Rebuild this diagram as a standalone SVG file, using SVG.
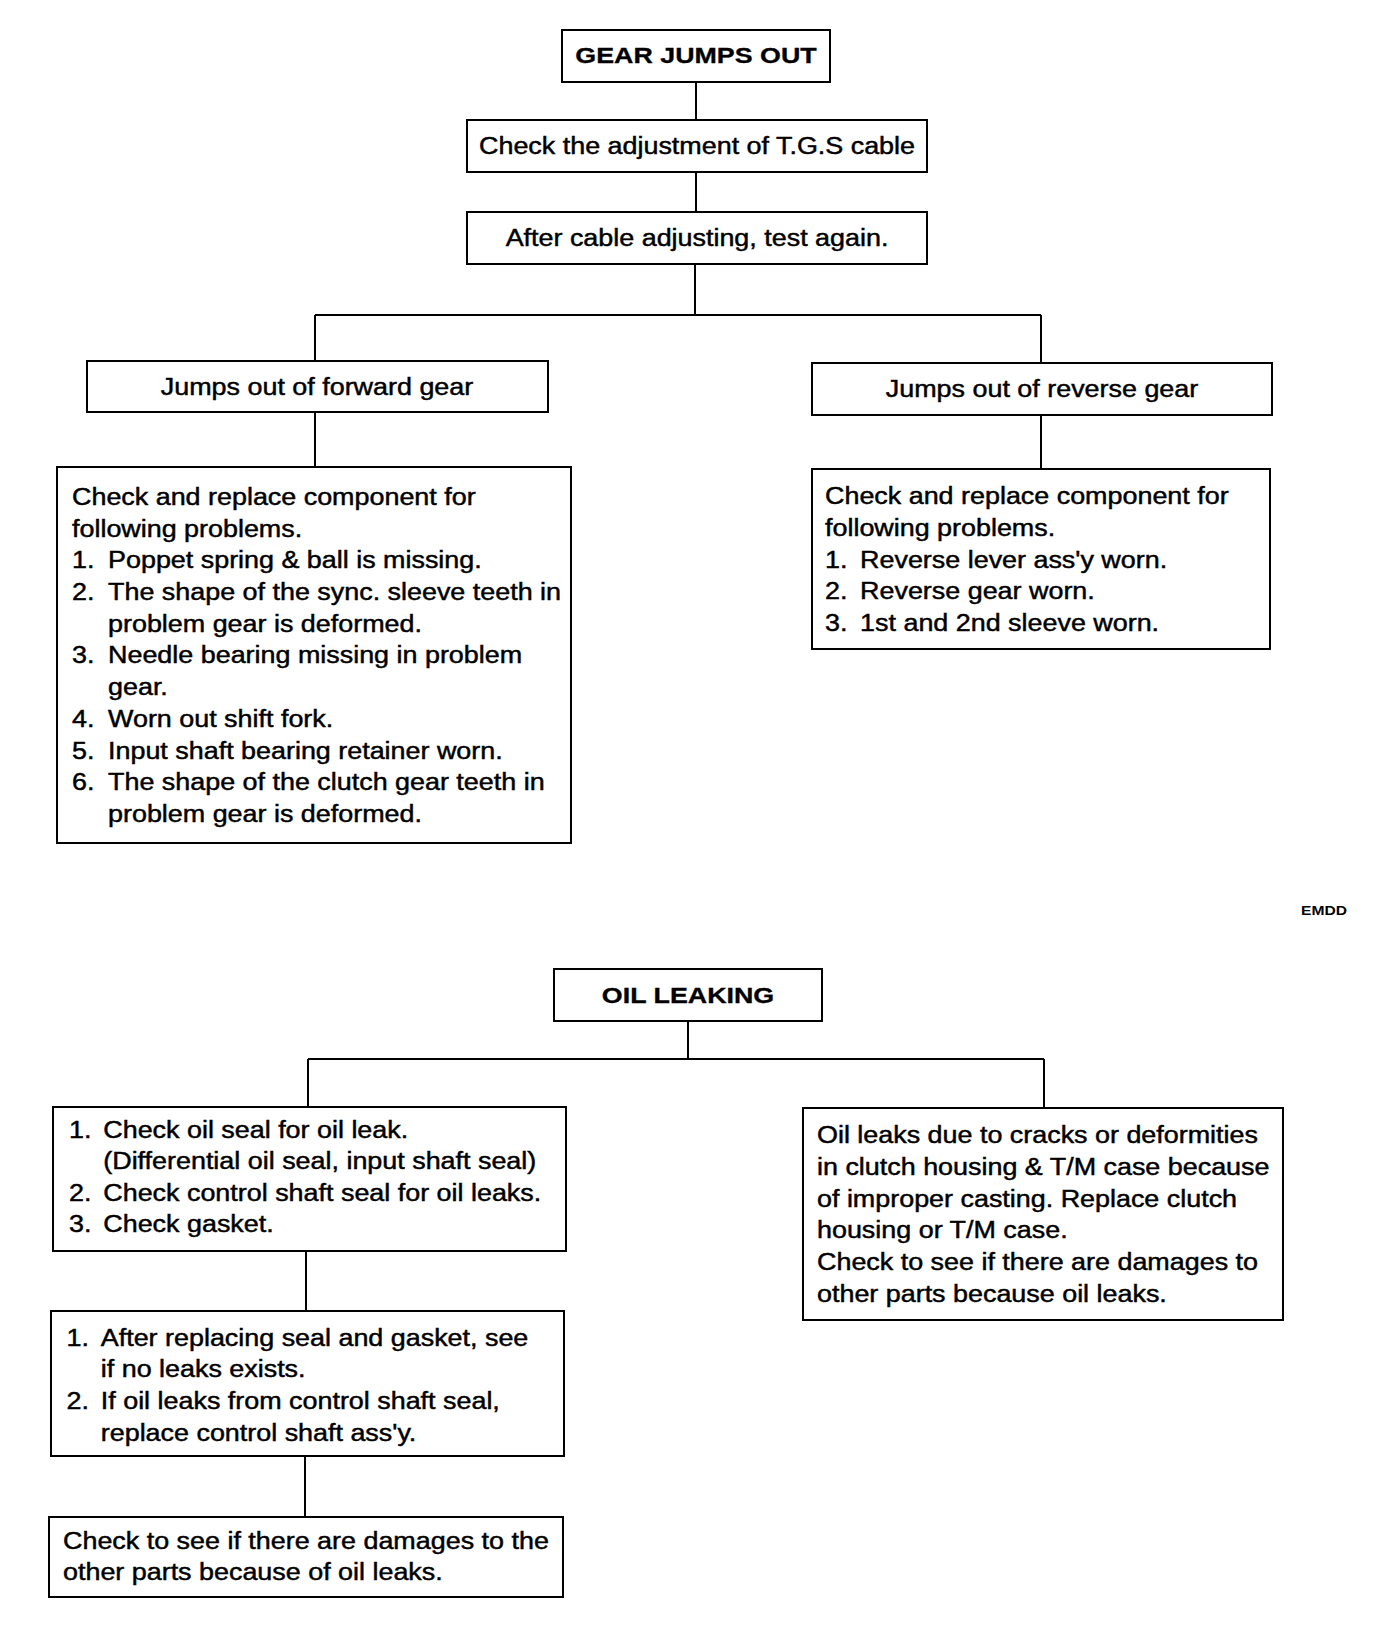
<svg xmlns="http://www.w3.org/2000/svg" width="1376" height="1630" viewBox="0 0 1376 1630">
<style>
.box{fill:#fff;stroke:#000;stroke-width:2}
.t{font-family:"Liberation Sans",Arial,Helvetica,sans-serif;font-size:23px;fill:#000;stroke:#000;stroke-width:0.45}
.b{font-family:"Liberation Sans",Arial,Helvetica,sans-serif;font-size:22px;font-weight:bold;fill:#000;stroke:#000;stroke-width:0.3}
.s{font-family:"Liberation Sans",Arial,Helvetica,sans-serif;font-size:13px;font-weight:bold;fill:#000}
.c{stroke:#000;stroke-width:2;fill:none}
</style>
<rect width="1376" height="1630" fill="#fff"/>
<g id="connectors" class="c">
<path d="M696,82V120M696,172V212M695,264V315M315,315H1041M315,315V361M1041,315V363M315,412V467M1041,415V470"/>
<path d="M688,1021V1059M308,1059H1044M308,1059V1107M1044,1059V1108M306,1251V1311M305,1456V1517"/>
</g>
<g id="n-gear">
<rect class="box" x="562" y="30" width="268" height="52"/>
<text class="b" text-anchor="middle" transform="translate(696,63) scale(1.22,1)">GEAR JUMPS OUT</text>
</g>
<g id="n-check">
<rect class="box" x="467" y="120" width="460" height="52"/>
<text class="t" text-anchor="middle" transform="translate(697,154) scale(1.17,1)">Check the adjustment of T.G.S cable</text>
</g>
<g id="n-after">
<rect class="box" x="467" y="212" width="460" height="52"/>
<text class="t" text-anchor="middle" transform="translate(697,246) scale(1.17,1)">After cable adjusting, test again.</text>
</g>
<g id="n-forward">
<rect class="box" x="87" y="361" width="461" height="51"/>
<text class="t" text-anchor="middle" transform="translate(317,395) scale(1.17,1)">Jumps out of forward gear</text>
</g>
<g id="n-reverse">
<rect class="box" x="812" y="363" width="460" height="52"/>
<text class="t" text-anchor="middle" transform="translate(1042,397) scale(1.17,1)">Jumps out of reverse gear</text>
</g>
<g id="n-forward-list">
<rect class="box" x="57" y="467" width="514" height="376"/>
<text class="t" transform="translate(72,505) scale(1.17,1)">
<tspan x="0" y="0">Check and replace component for</tspan>
<tspan x="0" y="31.7">following problems.</tspan>
<tspan x="0" y="63.4">1.</tspan><tspan x="30.8" y="63.4">Poppet spring &amp; ball is missing.</tspan>
<tspan x="0" y="95.1">2.</tspan><tspan x="30.8" y="95.1">The shape of the sync. sleeve teeth in</tspan>
<tspan x="30.8" y="126.8">problem gear is deformed.</tspan>
<tspan x="0" y="158.5">3.</tspan><tspan x="30.8" y="158.5">Needle bearing missing in problem</tspan>
<tspan x="30.8" y="190.2">gear.</tspan>
<tspan x="0" y="221.9">4.</tspan><tspan x="30.8" y="221.9">Worn out shift fork.</tspan>
<tspan x="0" y="253.6">5.</tspan><tspan x="30.8" y="253.6">Input shaft bearing retainer worn.</tspan>
<tspan x="0" y="285.3">6.</tspan><tspan x="30.8" y="285.3">The shape of the clutch gear teeth in</tspan>
<tspan x="30.8" y="317">problem gear is deformed.</tspan>
</text>
</g>
<g id="n-reverse-list">
<rect class="box" x="812" y="469" width="458" height="180"/>
<text class="t" transform="translate(825,504) scale(1.17,1)">
<tspan x="0" y="0">Check and replace component for</tspan>
<tspan x="0" y="31.8">following problems.</tspan>
<tspan x="0" y="63.6">1.</tspan><tspan x="30" y="63.6">Reverse lever ass'y worn.</tspan>
<tspan x="0" y="95.4">2.</tspan><tspan x="30" y="95.4">Reverse gear worn.</tspan>
<tspan x="0" y="127.2">3.</tspan><tspan x="30" y="127.2">1st and 2nd sleeve worn.</tspan>
</text>
</g>
<g id="n-code">
<text class="s" transform="translate(1301,915) scale(1.2,1)">EMDD</text>
</g>
<g id="n-oil">
<rect class="box" x="554" y="969" width="268" height="52"/>
<text class="b" text-anchor="middle" transform="translate(688,1003) scale(1.22,1)">OIL LEAKING</text>
</g>
<g id="n-oil-check">
<rect class="box" x="53" y="1107" width="513" height="144"/>
<text class="t" transform="translate(69,1138) scale(1.17,1)">
<tspan x="0" y="0">1.</tspan><tspan x="29.3" y="0">Check oil seal for oil leak.</tspan>
<tspan x="29.3" y="31.5">(Differential oil seal, input shaft seal)</tspan>
<tspan x="0" y="63">2.</tspan><tspan x="29.3" y="63">Check control shaft seal for oil leaks.</tspan>
<tspan x="0" y="94.5">3.</tspan><tspan x="29.3" y="94.5">Check gasket.</tspan>
</text>
</g>
<g id="n-oil-cracks">
<rect class="box" x="803" y="1108" width="480" height="212"/>
<text class="t" transform="translate(817,1143) scale(1.17,1)">
<tspan x="0" y="0">Oil leaks due to cracks or deformities</tspan>
<tspan x="0" y="31.8">in clutch housing &amp; T/M case because</tspan>
<tspan x="0" y="63.6">of improper casting. Replace clutch</tspan>
<tspan x="0" y="95.4">housing or T/M case.</tspan>
<tspan x="0" y="127.2">Check to see if there are damages to</tspan>
<tspan x="0" y="159">other parts because oil leaks.</tspan>
</text>
</g>
<g id="n-oil-after">
<rect class="box" x="51" y="1311" width="513" height="145"/>
<text class="t" transform="translate(66.5,1345.5) scale(1.17,1)">
<tspan x="0" y="0">1.</tspan><tspan x="29.3" y="0">After replacing seal and gasket, see</tspan>
<tspan x="29.3" y="31.8">if no leaks exists.</tspan>
<tspan x="0" y="63.6">2.</tspan><tspan x="29.3" y="63.6">If oil leaks from control shaft seal,</tspan>
<tspan x="29.3" y="95.4">replace control shaft ass'y.</tspan>
</text>
</g>
<g id="n-oil-damage">
<rect class="box" x="49" y="1517" width="514" height="80"/>
<text class="t" transform="translate(63,1549) scale(1.17,1)">
<tspan x="0" y="0">Check to see if there are damages to the</tspan>
<tspan x="0" y="31">other parts because of oil leaks.</tspan>
</text>
</g>
</svg>
